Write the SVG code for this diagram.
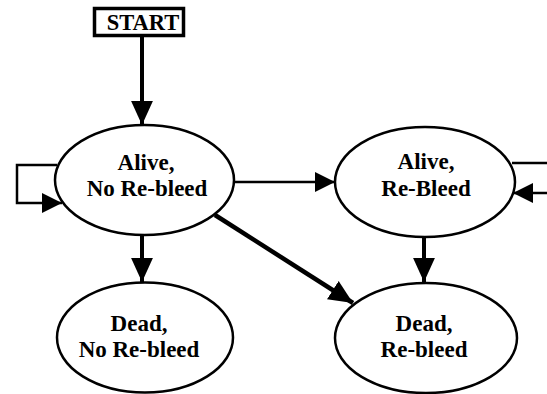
<svg xmlns="http://www.w3.org/2000/svg" width="547" height="394" viewBox="0 0 547 394">
<style>
.node ellipse{fill:#fff;stroke:#000;stroke-width:2.5}
.t{font-family:'Liberation Serif','Times New Roman',Times,serif;font-weight:700;font-size:23px;text-anchor:middle;fill:#000}
.c{fill:none;stroke:#000}
</style>
<defs>
<marker id="ah" markerUnits="userSpaceOnUse" markerWidth="24" markerHeight="24" viewBox="0 0 22 20" refX="22" refY="10" orient="auto"><path d="M0,0 L22,10 L0,20 Z" fill="#000"/></marker>
<marker id="ahs" markerUnits="userSpaceOnUse" markerWidth="20" markerHeight="20" viewBox="0 0 18 18" refX="18" refY="9" orient="auto"><path d="M0,0 L18,9 L0,18 Z" fill="#000"/></marker>
</defs>
<g id="start" class="node">
<rect x="94.5" y="8.5" width="89" height="27" fill="#fff" stroke="#000" stroke-width="3.5"/>
<text class="t" x="143" y="30" style="font-size:22.5px">START</text>
</g>
<g id="alive-no-rebleed" class="node">
<ellipse cx="144.5" cy="180" rx="89.5" ry="55"/>
<text class="t" x="146" y="170">Alive,</text>
<text class="t" x="147" y="196">No Re-bleed</text>
</g>
<g id="alive-rebleed" class="node">
<ellipse cx="425" cy="182" rx="90" ry="55"/>
<text class="t" x="426" y="169">Alive,</text>
<text class="t" x="426" y="196">Re-Bleed</text>
</g>
<g id="dead-no-rebleed" class="node">
<ellipse cx="145" cy="337.5" rx="88" ry="55"/>
<text class="t" x="139" y="331">Dead,</text>
<text class="t" x="139" y="357">No Re-bleed</text>
</g>
<g id="dead-rebleed" class="node">
<ellipse cx="426" cy="338" rx="91" ry="55"/>
<text class="t" x="424" y="331">Dead,</text>
<text class="t" x="424" y="357">Re-bleed</text>
</g>
<g id="connectors">
<path class="c" d="M142,35 V125" stroke-width="4" marker-end="url(#ah)"/>
<path class="c" d="M57,165 H17 V203 H62" stroke-width="2.5" marker-end="url(#ahs)"/>
<path class="c" d="M234,182 H335" stroke-width="2.5" marker-end="url(#ahs)"/>
<path class="c" d="M215,215 L353,303" stroke-width="4.5" marker-end="url(#ah)"/>
<path class="c" d="M142,235 V282" stroke-width="4" marker-end="url(#ah)"/>
<path class="c" d="M424,237 V282" stroke-width="4" marker-end="url(#ah)"/>
<path class="c" d="M512,163 H547" stroke-width="2.5"/>
<path class="c" d="M547,193 H513" stroke-width="2.5" marker-end="url(#ahs)"/>
</g>
</svg>
